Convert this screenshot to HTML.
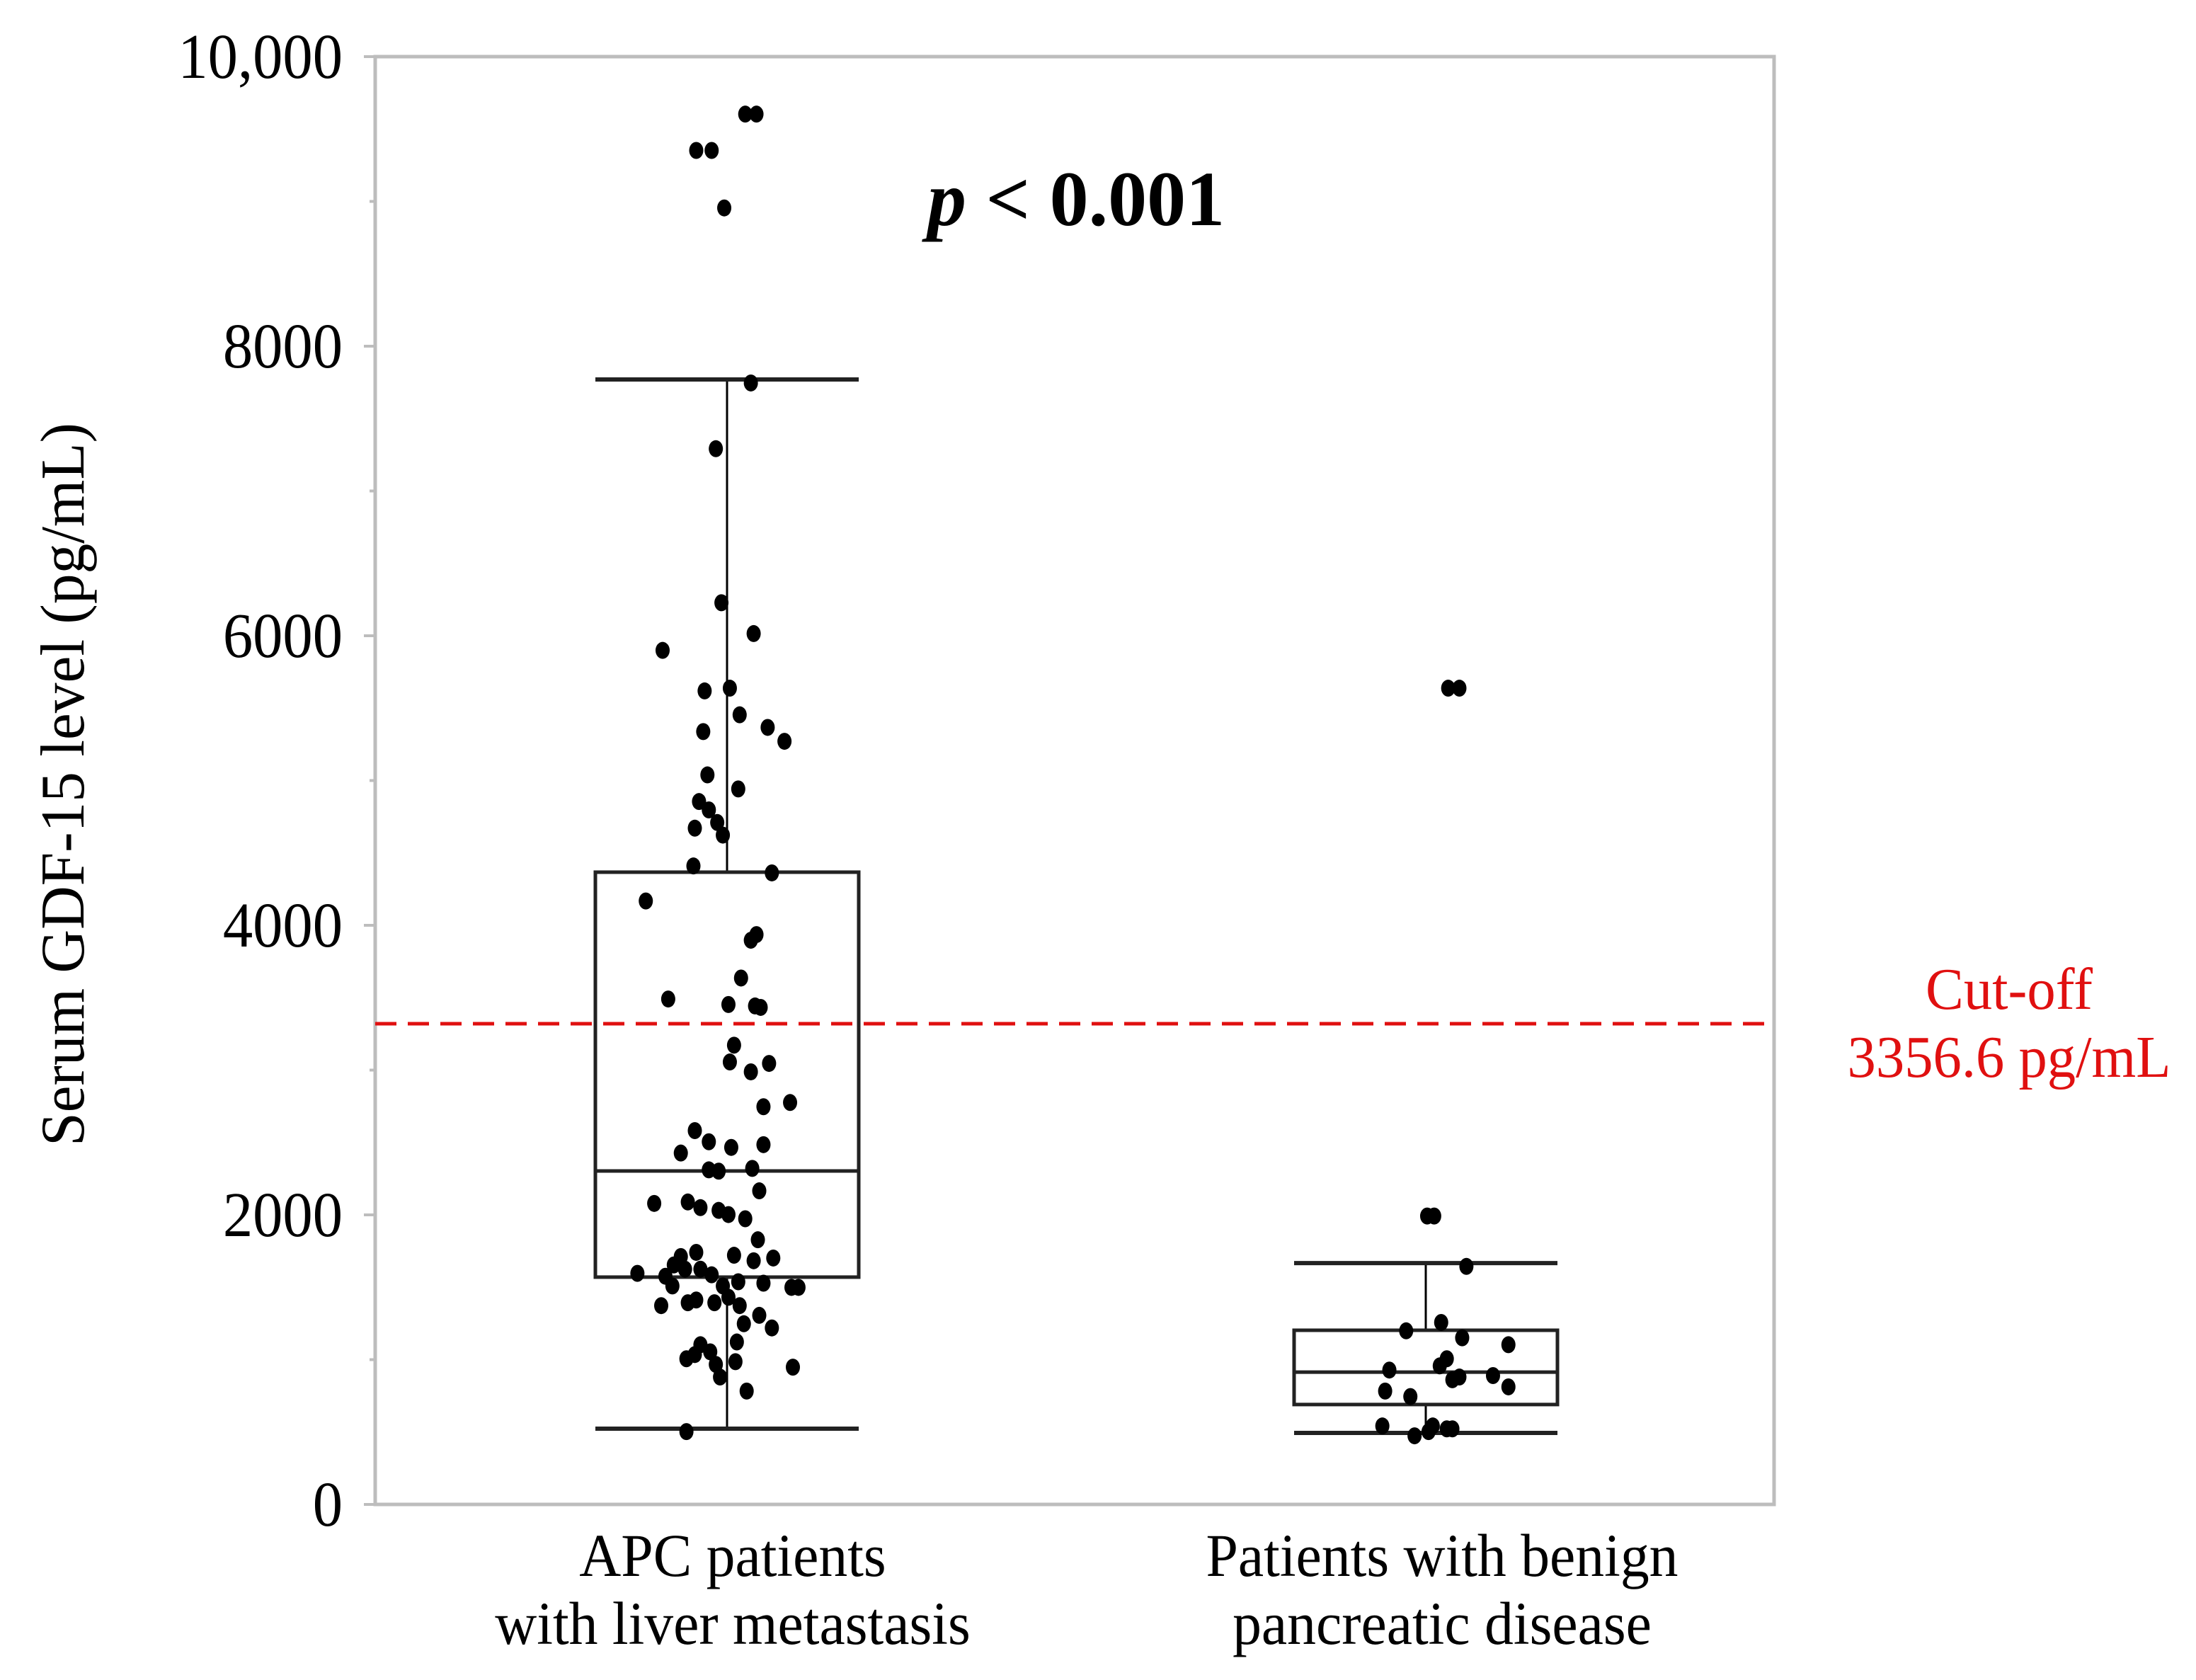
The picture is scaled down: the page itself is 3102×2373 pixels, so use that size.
<!DOCTYPE html>
<html><head><meta charset="utf-8"><style>
html,body{margin:0;padding:0;background:#fff;}
svg{display:block;}
text{font-family:"Liberation Serif",serif;}
</style></head><body>
<svg id="chart" width="3102" height="2373" viewBox="0 0 3102 2373" xmlns="http://www.w3.org/2000/svg"></svg>
<script>
const categories = ["APC patients|with liver metastasis", "Patients with benign|pancreatic disease"];
const yTicks = [0, 2000, 4000, 6000, 8000, 10000];
const yTickLabels = ["0", "2000", "4000", "6000", "8000", "10,000"];
// box stats: lower whisker, Q1, median, Q3, upper whisker
const apcStats = [523, 1570, 2303, 4367, 7770];
const benignStats = [494, 690, 914, 1203, 1667];
const cutoff = 3320;
const apcValues = [9603,9603,9352,9352,8955,7746,7292,6228,6015,5899,5619,5638,5454,5367,5271,5338,5039,4942,4855,4797,4710,4623,4671,4410,4362,4168,3936,3897,3636,3491,3453,3443,3433,3172,3056,3046,2988,2747,2776,2582,2505,2466,2427,2485,2311,2302,2321,2166,2079,2089,2050,2031,2002,1973,1828,1712,1741,1721,1683,1702,1654,1625,1596,1576,1625,1586,1509,1538,1528,1499,1499,1393,1509,1373,1412,1393,1431,1373,1306,1219,1248,1103,1035,1054,1122,1006,967,986,948,880,783,503];
const apcJitter = [13,21,-22,-11,-2,17,-8,-4,19,-46,-16,2,9,29,41,-17,-14,8,-20,-13,-7,-3,-23,-24,32,-58,21,17,10,-42,1,20,24,5,2,30,17,26,45,-23,-13,3,-33,26,-13,-6,18,23,-52,-28,-19,-6,1,13,22,-33,-22,5,19,33,-38,-30,-64,-44,-19,-11,-3,8,26,46,51,-28,-39,-47,-22,-9,1,9,23,32,12,-19,-23,-12,7,-29,-8,6,47,-5,14,-29];
const benignValues = [5638,5638,1992,1992,1644,1199,1257,1151,1103,1006,928,957,880,861,890,812,783,745,542,542,522,474,503,522];
const benignJitter = [16,24,1,6,29,-14,11,26,59,15,-26,10,24,19,48,59,-29,-11,-31,5,15,-8,2,19];

const NS = "http://www.w3.org/2000/svg";
const svg = document.getElementById("chart");
const L = 530, R = 2506, T = 80, B = 2125;
const yMin = 0, yMax = 10000;
const centers = [1027, 2014];
const boxW = 372;
function y(v){ return B - (v - yMin) / (yMax - yMin) * (B - T); }
function mk(tag, attrs, parent){ const e = document.createElementNS(NS, tag); for (const k in attrs) e.setAttribute(k, attrs[k]); (parent||svg).appendChild(e); return e; }

const frame = mk("rect", {x:L, y:T, width:R-L, height:B-T, fill:"none", stroke:"#bdbdbd", "stroke-width":5});



for (let v = 0; v <= 10000; v += 1000) {
  const major = v % 2000 === 0;
  const t = mk("line", {x1:L - (major ? 16 : 8), x2:L, y1:y(v), y2:y(v), stroke:"#bdbdbd", "stroke-width":4});
  
  
}
yTicks.forEach((v, i) => {
  const t = mk("text", {x:484, y:y(v) + 30, "text-anchor":"end", "font-size":90, fill:"#000", transform:"translate(" + (484*0.06) + ",0) scale(0.94,1)"});
  t.textContent = yTickLabels[i];
  
  
});

const yt = mk("text", {x:0, y:0, transform:"translate(118,1108) rotate(-90) scale(0.97,1)", "text-anchor":"middle", "font-size":88, fill:"#000"});
yt.textContent = "Serum GDF-15 level (pg/mL)";



const labelCenters = [1035, 2037];
categories.forEach((c, i) => {
  const parts = c.split("|");
  parts.forEach((p, j) => {
    const t = mk("text", {x:0, y:0, transform:"translate(" + labelCenters[i] + "," + (2226 + j*96) + ") scale(0.95,1)", "text-anchor":"middle", "font-size":86, fill:"#000"});
    t.textContent = p;
    
    
  });
});

function drawBox(stats, cx, name){
  const g = mk("g", {});
  
  
  const [lo, q1, med, q3, hi] = stats;
  const x0 = cx - boxW/2, x1 = cx + boxW/2;
  mk("line", {x1:cx, x2:cx, y1:y(hi), y2:y(q3), stroke:"#000", "stroke-width":3}, g);
  mk("line", {x1:cx, x2:cx, y1:y(q1), y2:y(lo), stroke:"#000", "stroke-width":3}, g);
  mk("rect", {x:x0, y:y(q3), width:boxW, height:y(q1)-y(q3), fill:"none", stroke:"#222", "stroke-width":5}, g);
  mk("line", {x1:x0, x2:x1, y1:y(med), y2:y(med), stroke:"#222", "stroke-width":5}, g);
  mk("line", {x1:x0, x2:x1, y1:y(hi), y2:y(hi), stroke:"#222", "stroke-width":6}, g);
  mk("line", {x1:x0, x2:x1, y1:y(lo), y2:y(lo), stroke:"#222", "stroke-width":6}, g);
}
drawBox(apcStats, centers[0], "box-apc");
drawBox(benignStats, centers[1], "box-benign");

const cl = mk("line", {x1:L, x2:R, y1:y(cutoff), y2:y(cutoff), stroke:"#e01010", "stroke-width":5, "stroke-dasharray":"30 16"});


["Cut-off", "3356.6 pg/mL"].forEach((s, j) => {
  const t = mk("text", {x:0, y:0, transform:"translate(2838," + (1425 + j*96) + ") scale(0.96,1)", "text-anchor":"middle", "font-size":84, fill:"#e01010"});
  t.textContent = s;
  
  
});

function drawPoints(vals, jit, cx, name){
  vals.forEach((v, i) => {
    const c = mk("ellipse", {cx:cx + jit[i]/188*boxW, cy:y(v), rx:10, ry:12, fill:"#000"});
    
    
  });
}
drawPoints(apcValues, apcJitter, centers[0], "apc-point");
drawPoints(benignValues, benignJitter, centers[1], "benign-point");

const pv = mk("text", {x:1310, y:318, "font-size":110, "font-weight":"bold", fill:"#000"});


const pi = mk("tspan", {"font-style":"italic"}, pv); pi.textContent = "p";
const pr = mk("tspan", {}, pv); pr.textContent = " < 0.001";
</script>
</body></html>
